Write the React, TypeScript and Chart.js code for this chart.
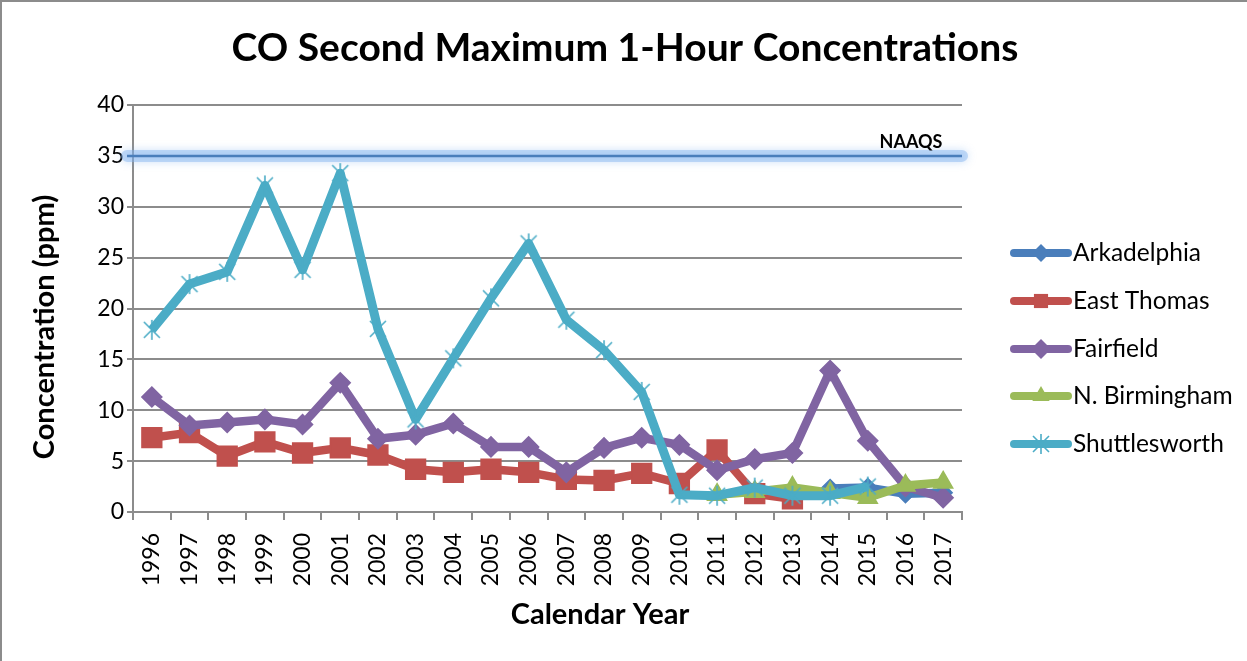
import React, { useEffect, useRef } from "react";
import { Chart, registerables } from "chart.js";

Chart.register(...registerables);

const years = ["1996","1997","1998","1999","2000","2001","2002","2003","2004","2005","2006","2007","2008","2009","2010","2011","2012","2013","2014","2015","2016","2017"];
const arkadelphia = [null,null,null,null,null,null,null,null,null,null,null,null,null,null,null,null,null,null,2.3,2.4,1.8,1.9];
const eastThomas = [7.3,7.8,5.5,6.9,5.8,6.3,5.6,4.2,3.9,4.2,3.9,3.2,3.1,3.8,2.8,6.1,1.8,1.3,null,null,null,null];
const fairfield = [11.3,8.5,8.8,9.1,8.6,12.7,7.2,7.6,8.7,6.4,6.4,3.9,6.3,7.3,6.6,4.1,5.2,5.8,13.9,7.0,2.5,1.4];
const nBirmingham = [null,null,null,null,null,null,null,null,null,null,null,null,null,null,null,1.7,2.0,2.4,1.9,1.4,2.6,2.9];
const shuttlesworth = [17.9,22.4,23.6,32.1,23.8,33.3,18.0,9.1,15.1,21.0,26.4,18.9,15.9,11.8,1.7,1.6,2.4,1.6,1.6,2.5,null,null];
const yTicks = [0, 5, 10, 15, 20, 25, 30, 35, 40];
const naaqs = 35;

const FONT = "Lato, 'Open Sans', sans-serif";

function makeStar(color: string, r: number) {
  const c = document.createElement("canvas");
  const size = Math.ceil(r * 2 + 4);
  c.width = size;
  c.height = size;
  const g = c.getContext("2d") as CanvasRenderingContext2D;
  const m = size / 2;
  g.strokeStyle = color;
  g.lineWidth = 1.6;
  g.beginPath();
  const d = r * 0.8;
  g.moveTo(m - d, m - d); g.lineTo(m + d, m + d);
  g.moveTo(m + d, m - d); g.lineTo(m - d, m + d);
  g.moveTo(m, m - r); g.lineTo(m, m + r);
  g.stroke();
  return c;
}

const seriesDefs = [
  { label: "Arkadelphia", data: arkadelphia, color: "#4A7EBB", point: "rectRot", radius: 9, order: 4 },
  { label: "East Thomas", data: eastThomas, color: "#C0504D", point: "rect", radius: 14, order: 3 },
  { label: "Fairfield", data: fairfield, color: "#8064A2", point: "rectRot", radius: 10, order: 2 },
  { label: "N. Birmingham", data: nBirmingham, color: "#9BBB59", point: "triangle", radius: 11, order: 1 },
  { label: "Shuttlesworth", data: shuttlesworth, color: "#4BACC6", point: "star", radius: 10, order: 0 },
];

function drawMarker(ctx: CanvasRenderingContext2D, style: string, r: number, x: number, y: number) {
  ctx.beginPath();
  if (style === "rect") {
    const s = Math.SQRT1_2 * r;
    ctx.rect(x - s, y - s, 2 * s, 2 * s);
    ctx.fill();
  } else if (style === "rectRot") {
    ctx.moveTo(x - r, y);
    ctx.lineTo(x, y - r);
    ctx.lineTo(x + r, y);
    ctx.lineTo(x, y + r);
    ctx.closePath();
    ctx.fill();
  } else if (style === "triangle") {
    const a = (2 * Math.PI) / 3;
    ctx.moveTo(x, y - r);
    ctx.lineTo(x + Math.sin(a) * r, y - Math.cos(a) * r);
    ctx.lineTo(x + Math.sin(2 * a) * r, y - Math.cos(2 * a) * r);
    ctx.closePath();
    ctx.fill();
  } else if (style === "star") {
    const d = r * 0.8;
    ctx.moveTo(x - d, y - d); ctx.lineTo(x + d, y + d);
    ctx.moveTo(x + d, y - d); ctx.lineTo(x - d, y + d);
    ctx.moveTo(x, y - r); ctx.lineTo(x, y + r);
    ctx.lineWidth = 1.6;
    ctx.stroke();
  }
}

const decorPlugin = {
  id: "decor",
  beforeDatasetsDraw(chart: any) {
    const ctx = chart.ctx;
    const y = chart.scales.y.getPixelForValue(naaqs);
    const area = chart.chartArea;
    ctx.save();
    ctx.lineCap = "round";
    ctx.strokeStyle = "rgba(130,180,240,0.45)";
    ctx.lineWidth = 12;
    ctx.shadowColor = "rgba(110,165,235,0.75)";
    ctx.shadowBlur = 8;
    ctx.beginPath();
    ctx.moveTo(area.left - 6, y);
    ctx.lineTo(area.right, y);
    ctx.stroke();
    ctx.shadowBlur = 0;
    ctx.lineCap = "butt";
    ctx.strokeStyle = "#4A7EBB";
    ctx.lineWidth = 2.5;
    ctx.beginPath();
    ctx.moveTo(area.left - 6, y);
    ctx.lineTo(area.right, y);
    ctx.stroke();
    ctx.fillStyle = "#000";
    ctx.font = `bold 18px ${FONT}`;
    ctx.textAlign = "center";
    ctx.textBaseline = "middle";
    ctx.fillText("NAAQS", area.right - 51, y - 14);
    ctx.restore();
  },
  afterDraw(chart: any) {
    const ctx = chart.ctx;
    ctx.save();
    ctx.strokeStyle = "#8c8c8c";
    ctx.lineWidth = 2;
    ctx.strokeRect(1, 1, chart.width + 10, chart.height + 10);
    ctx.fillStyle = "#000";
    ctx.textAlign = "center";
    ctx.textBaseline = "middle";
    ctx.font = `bold 39px ${FONT}`;
    ctx.fillText("CO Second Maximum 1-Hour Concentrations", 625, 48);
    ctx.font = `bold 29px ${FONT}`;
    ctx.fillText("Calendar Year", 600, 615);
    ctx.save();
    ctx.translate(45, 327);
    ctx.rotate(-Math.PI / 2);
    ctx.fillText("Concentration (ppm)", 0, 0);
    ctx.restore();
    const x0 = 1014, x1 = 1068;
    const ys = [253, 301, 349, 396, 444];
    seriesDefs.forEach((s, i) => {
      const yy = ys[i];
      ctx.strokeStyle = s.color;
      ctx.lineWidth = 8;
      ctx.lineCap = "round";
      ctx.beginPath();
      ctx.moveTo(x0, yy);
      ctx.lineTo(x1, yy);
      ctx.stroke();
      ctx.fillStyle = s.color;
      ctx.strokeStyle = s.color;
      ctx.lineCap = "butt";
      drawMarker(ctx, s.point, Math.min(s.radius, 10), (x0 + x1) / 2, yy);
      ctx.fillStyle = "#000";
      ctx.font = `24.5px ${FONT}`;
      ctx.textAlign = "left";
      ctx.textBaseline = "middle";
      ctx.fillText(s.label, 1073, yy);
    });
    ctx.restore();
  },
};

export default function App() {
  const ref = useRef<HTMLCanvasElement>(null);
  useEffect(() => {
    const starImg = makeStar("#4BACC6", 10);
    const chart = new Chart(ref.current as HTMLCanvasElement, {
      type: "line",
      data: {
        labels: years,
        datasets: seriesDefs.map((s) => ({
          label: s.label,
          data: s.data as any,
          borderColor: s.color,
          backgroundColor: s.color,
          borderWidth: s.label === "Shuttlesworth" ? 9 : 8.5,
          pointStyle: (s.point === "star" ? starImg : s.point) as any,
          pointRadius: s.radius,
          pointBorderWidth: 1.5,
          pointBorderColor: s.color,
          pointBackgroundColor: s.color,
          tension: 0,
          spanGaps: false,
          order: s.order,
          borderJoinStyle: "round" as any,
        })),
      },
      options: {
        responsive: false,
        animation: false,
        events: [],
        layout: { padding: { left: 20, right: 285, top: 105, bottom: 20 } },
        plugins: { legend: { display: false }, tooltip: { enabled: false }, title: { display: false } },
        scales: {
          x: {
            type: "category",
            offset: true,
            grid: { display: true, offset: true, drawOnChartArea: false, drawTicks: true, tickLength: 8, color: "#8c8c8c", lineWidth: 2 },
            border: { display: true, color: "#8c8c8c", width: 2 },
            ticks: { color: "#000", font: { family: FONT, size: 23 }, maxRotation: 90, minRotation: 90, autoSkip: false, padding: 13 },
            afterFit: (scale: any) => { scale.height = 661 - 512 - 20; },
          },
          y: {
            min: 0,
            max: 40,
            afterBuildTicks: (scale: any) => { scale.ticks = yTicks.map((v) => ({ value: v })); },
            grid: { color: "#8c8c8c", lineWidth: 2, tickLength: 6, drawTicks: true },
            border: { display: true, color: "#8c8c8c", width: 2 },
            ticks: { color: "#000", font: { family: FONT, size: 23 }, padding: 3 },
            afterFit: (scale: any) => { scale.width = 133 - 20; },
          },
        },
      },
      plugins: [decorPlugin],
    });
    return () => chart.destroy();
  }, []);
  return (
    <div style={{ position: "fixed", left: 0, top: 0, width: 1247, height: 661, background: "#fff" }}>
      <canvas ref={ref} width={1247} height={661} style={{ display: "block" }} />
    </div>
  );
}
